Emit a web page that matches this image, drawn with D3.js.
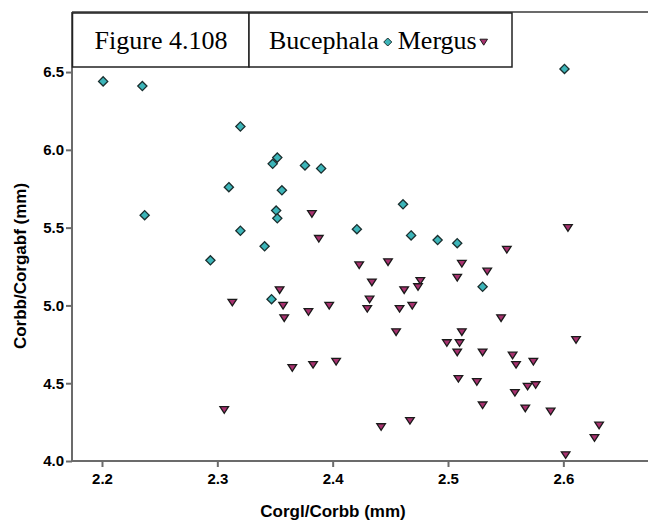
<!DOCTYPE html>
<html>
<head>
<meta charset="utf-8">
<script src="https://cdn.jsdelivr.net/npm/d3@7/dist/d3.min.js"></script>
<style>
  html, body { margin: 0; padding: 0; background: #fff; }
  svg { display: block; }
</style>
</head>
<body>
<script>
const bucephalaX = [2.201, 2.235, 2.237, 2.320, 2.310, 2.294, 2.320, 2.348, 2.352, 2.356, 2.351, 2.352, 2.341, 2.347, 2.376, 2.390, 2.421, 2.461, 2.468, 2.491, 2.508, 2.530, 2.601];
const bucephalaY = [6.44, 6.41, 5.58, 6.15, 5.76, 5.29, 5.48, 5.91, 5.95, 5.74, 5.61, 5.56, 5.38, 5.04, 5.90, 5.88, 5.49, 5.65, 5.45, 5.42, 5.40, 5.12, 6.52];

const mergusX = [2.382, 2.388, 2.423, 2.448, 2.434, 2.354, 2.313, 2.357, 2.397, 2.379, 2.358, 2.432, 2.430, 2.458, 2.469, 2.462, 2.476, 2.474, 2.512, 2.534, 2.508, 2.551, 2.604, 2.455, 2.546, 2.512, 2.499, 2.510, 2.508, 2.530, 2.556, 2.559, 2.574, 2.611, 2.509, 2.525, 2.558, 2.569, 2.576, 2.530, 2.567, 2.589, 2.631, 2.627, 2.602, 2.365, 2.383, 2.403, 2.306, 2.442, 2.467];
const mergusY = [5.59, 5.43, 5.26, 5.28, 5.15, 5.10, 5.02, 5.00, 5.00, 4.96, 4.92, 5.04, 4.98, 4.98, 5.00, 5.10, 5.16, 5.12, 5.27, 5.22, 5.18, 5.36, 5.50, 4.83, 4.92, 4.83, 4.76, 4.76, 4.70, 4.70, 4.68, 4.62, 4.64, 4.78, 4.53, 4.51, 4.44, 4.48, 4.49, 4.36, 4.34, 4.32, 4.23, 4.15, 4.04, 4.60, 4.62, 4.64, 4.33, 4.22, 4.26];

const xTicks = [2.2, 2.3, 2.4, 2.5, 2.6];
const yTicks = [4.0, 4.5, 5.0, 5.5, 6.0, 6.5];

const titleText = "Figure 4.108";
const seriesNames = ["Bucephala", "Mergus"];
const xTitle = "Corgl/Corbb (mm)";
const yTitle = "Corbb/Corgabf (mm)";

const W = 648, H = 524;
const L = 72, R = 648, T = 12, B = 461;

const svg = d3.select("body").append("svg").attr("width", W).attr("height", H);

const x = d3.scaleLinear().domain([2.174, 2.6734]).range([L, R]);
const y = d3.scaleLinear().domain([4.0, 6.886]).range([B, T]);

const axisColor = "#6b6b6b";
const sans = "'Liberation Sans', Arial, sans-serif";

// frame top line
svg.append("line").attr("x1", L).attr("x2", R).attr("y1", T).attr("y2", T)
  .attr("stroke", axisColor).attr("stroke-width", 2);

// axes
const xAxis = svg.append("g").attr("transform", `translate(0,${B})`)
  .call(d3.axisBottom(x).tickValues(xTicks).tickFormat(d3.format(".1f")).tickSizeOuter(0).tickSize(6).tickPadding(6));
const yAxis = svg.append("g").attr("transform", `translate(${L},0)`)
  .call(d3.axisLeft(y).tickValues(yTicks).tickFormat(d3.format(".1f")).tickSizeOuter(0).tickSize(6).tickPadding(2));

[xAxis, yAxis].forEach(g => {
  g.select(".domain").attr("stroke", axisColor).attr("stroke-width", 2);
  g.selectAll(".tick line").attr("stroke", axisColor).attr("stroke-width", 2);
  g.selectAll(".tick text").attr("fill", "#000")
    .style("font-family", sans)
    .style("font-size", "15px").style("font-weight", "bold");
});
yAxis.select(".domain").attr("d", `M0,${B}V${T}`);
xAxis.select(".domain").attr("d", `M${L},0H${R}`);

// axis titles
svg.append("text").attr("x", 333).attr("y", 517).attr("text-anchor", "middle")
  .style("font-family", sans).style("font-size", "17px").style("font-weight", "bold")
  .text(xTitle);
svg.append("text").attr("transform", `translate(26,266) rotate(-90)`).attr("text-anchor", "middle")
  .style("font-family", sans).style("font-size", "17px").style("font-weight", "bold")
  .text(yTitle);

// markers
const diamond = "M0,-4.6L4.6,0L0,4.6L-4.6,0Z";
const tri = "M-4.3,-3L4.3,-3L0,3.6Z";
const bucColor = "#3cb5b9", merColor = "#a8316f";

svg.append("g").selectAll("path").data(d3.range(mergusX.length)).join("path")
  .attr("d", tri)
  .attr("transform", i => `translate(${x(mergusX[i])},${y(mergusY[i])})`)
  .attr("fill", merColor).attr("stroke", "#1a1a1a").attr("stroke-width", 1.3);

svg.append("g").selectAll("path").data(d3.range(bucephalaX.length)).join("path")
  .attr("d", diamond)
  .attr("transform", i => `translate(${x(bucephalaX[i])},${y(bucephalaY[i])})`)
  .attr("fill", bucColor).attr("stroke", "#1a2e2e").attr("stroke-width", 1.3);

// title & legend boxes
const boxTop = 13, boxBot = 67;
svg.append("rect").attr("x", 72.5).attr("y", boxTop).attr("width", 249 - 72.5).attr("height", boxBot - boxTop)
  .attr("fill", "#fff").attr("stroke", "#222").attr("stroke-width", 1.5);
svg.append("rect").attr("x", 249).attr("y", boxTop).attr("width", 512 - 249).attr("height", boxBot - boxTop)
  .attr("fill", "#fff").attr("stroke", "#222").attr("stroke-width", 1.5);

const serif = "'Liberation Serif', 'Times New Roman', serif";
const fs = "26px";
svg.append("text").attr("x", 161).attr("y", 49).attr("text-anchor", "middle")
  .style("font-family", serif).style("font-size", fs).text(titleText);

const lx = 269;
const t1 = svg.append("text").attr("x", lx).attr("y", 49)
  .style("font-family", serif).style("font-size", fs).text(seriesNames[0]);
const w1 = t1.node().getComputedTextLength();
svg.append("path").attr("d", "M0,-4L4,0L0,4L-4,0Z")
  .attr("transform", `translate(${lx + w1 + 9},42)`)
  .attr("fill", bucColor).attr("stroke", "#1a2e2e").attr("stroke-width", 1);
const t2 = svg.append("text").attr("x", lx + w1 + 19).attr("y", 49)
  .style("font-family", serif).style("font-size", fs).text(seriesNames[1]);
const w2 = t2.node().getComputedTextLength();
svg.append("path").attr("d", "M-3.8,-2.8L3.8,-2.8L0,3.2Z")
  .attr("transform", `translate(${lx + w1 + 19 + w2 + 7},42)`)
  .attr("fill", merColor).attr("stroke", "#1a1a1a").attr("stroke-width", 1);
</script>
</body>
</html>
